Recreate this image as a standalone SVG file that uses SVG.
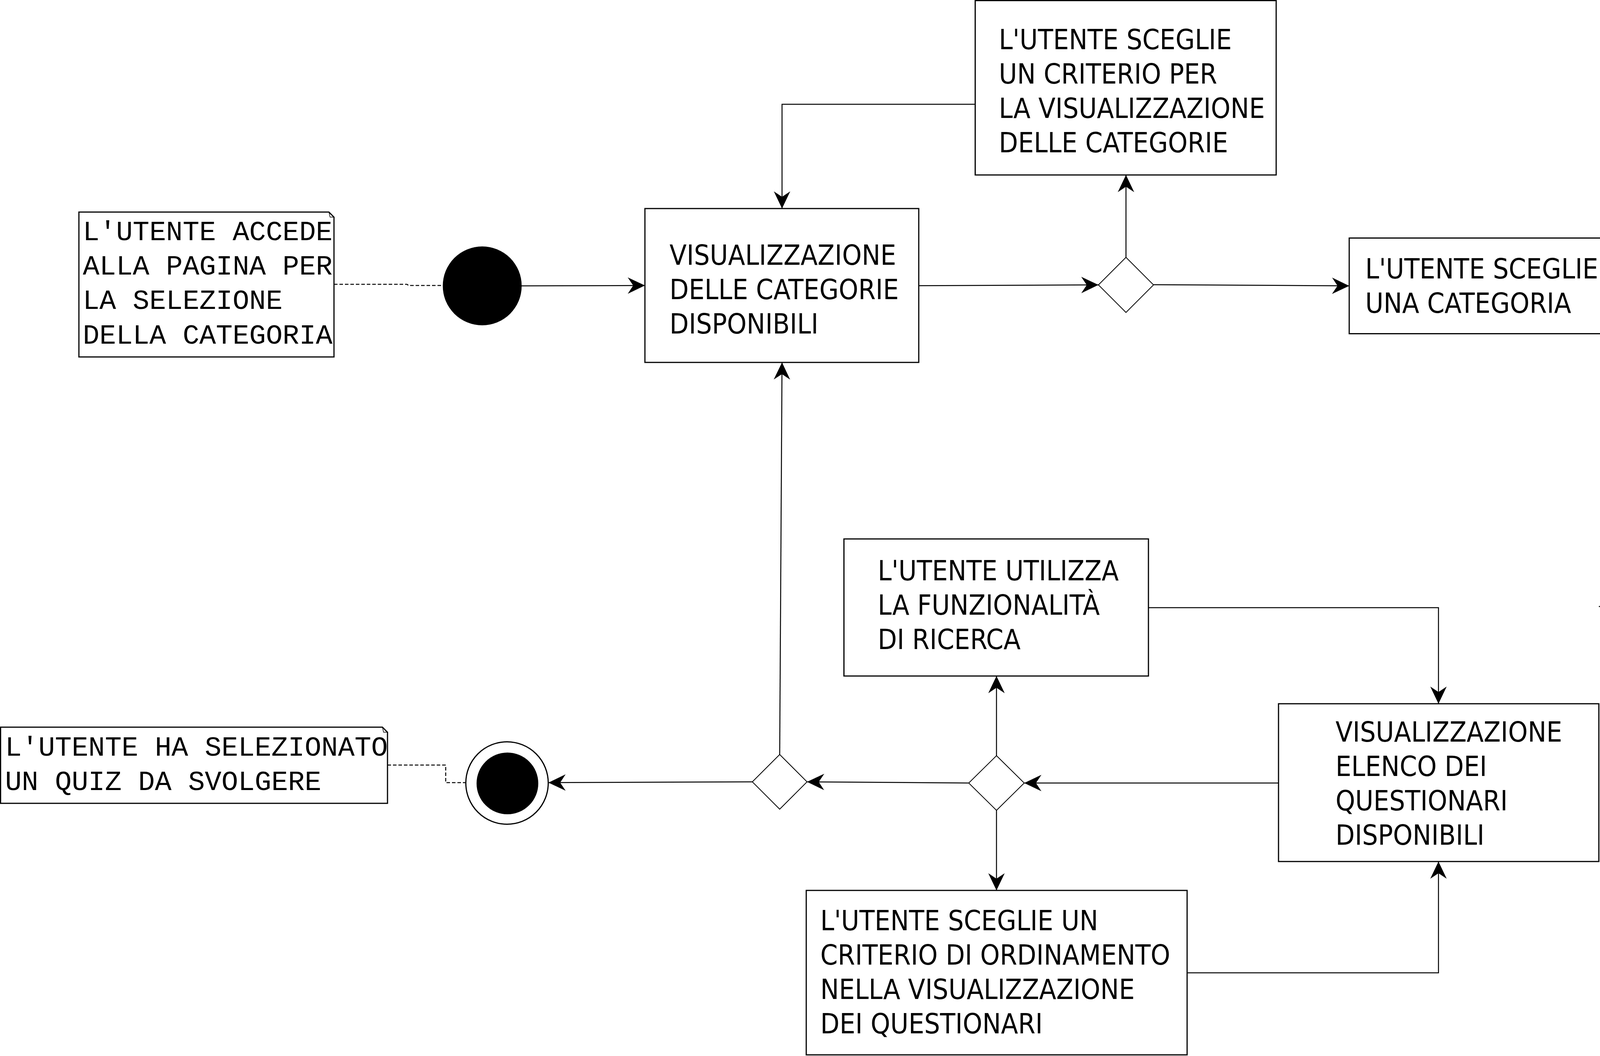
<svg xmlns="http://www.w3.org/2000/svg" width="4291" height="2704" viewBox="0 0 4291 2704">
<style>
.bg{fill:#fff}
.box{fill:#fff;stroke:#000;stroke-width:3}
.dia{fill:#fff;stroke:#000;stroke-width:2}
.note{fill:#fff;stroke:#000;stroke-width:3}
.con{fill:none;stroke:#000;stroke-width:2.5}
.dash{fill:none;stroke:#000;stroke-width:2.5;stroke-dasharray:9 5}
.t{font-family:"DejaVu Sans Condensed","DejaVu Sans",sans-serif;font-stretch:condensed;font-size:71px;fill:#000}
.m{font-family:"Liberation Mono","Courier New",monospace;font-size:71px;fill:#000}
</style>
<defs>
<marker id="arr" markerUnits="userSpaceOnUse" viewBox="-46 -23 48 46" markerWidth="48" markerHeight="46" refX="0" refY="0" orient="auto">
<path d="M0,0 L-44,-21 L-30,0 L-44,21 Z" fill="#000"/>
</marker>
</defs>
<rect class="bg" x="0" y="0" width="4291" height="2704"/>

<g id="connectors">
<line class="con" x1="1335" y1="732" x2="1651" y2="731" marker-end="url(#arr)"/>
<line class="con" x1="2352" y1="731.5" x2="2812" y2="729.5" marker-end="url(#arr)"/>
<line class="con" x1="2882.5" y1="659" x2="2882.5" y2="448" marker-end="url(#arr)"/>
<polyline class="con" points="2496,267 2002,267 2002,534" marker-end="url(#arr)"/>
<line class="con" x1="2953" y1="729" x2="3454" y2="732" marker-end="url(#arr)"/>
<polyline class="con" points="4135,732 4288,732 4288,1553 4093,1553" marker-end="url(#arr)"/>
<polyline class="con" points="2940,1556 3682.5,1556 3682.5,1802" marker-end="url(#arr)"/>
<polyline class="con" points="3039,2491 3682.5,2491 3682.5,2206" marker-end="url(#arr)"/>
<line class="con" x1="3273" y1="2005" x2="2622" y2="2005" marker-end="url(#arr)"/>
<line class="con" x1="2551" y1="1935" x2="2551" y2="1731" marker-end="url(#arr)"/>
<line class="con" x1="2551" y1="2074" x2="2551" y2="2280" marker-end="url(#arr)"/>
<line class="con" x1="2480" y1="2005" x2="2066" y2="2002" marker-end="url(#arr)"/>
<line class="con" x1="1996" y1="1932" x2="2002" y2="928" marker-end="url(#arr)"/>
<line class="con" x1="1926" y1="2002" x2="1404" y2="2004" marker-end="url(#arr)"/>
<polyline class="dash" points="855,728 1042,728 1046,731 1134,731"/>
<polyline class="dash" points="992,1959 1141,1959 1141,2004 1221,2004"/>
</g>

<g id="note-start">
<path class="note" d="M202,543 H842 L855,556 V914 H202 Z"/>
<path d="M842,543 L845,556 L855,556" fill="none" stroke="#000" stroke-width="1.5"/>
<text class="m" x="212" y="615">L'UTENTE ACCEDE</text>
<text class="m" x="212" y="703">ALLA PAGINA PER</text>
<text class="m" x="212" y="791">LA SELEZIONE</text>
<text class="m" x="212" y="880">DELLA CATEGORIA</text>
</g>

<g id="start">
<circle cx="1234.5" cy="732" r="101" fill="#000"/>
</g>

<g id="box-visualizzazione-categorie">
<rect class="box" x="1651" y="534" width="701" height="394"/>
<text class="t" x="1714" y="678">VISUALIZZAZIONE</text>
<text class="t" x="1714" y="766">DELLE CATEGORIE</text>
<text class="t" x="1714" y="854">DISPONIBILI</text>
</g>

<g id="box-criterio-categorie">
<rect class="box" x="2496.5" y="1.5" width="770.5" height="446.5"/>
<text class="t" x="2557" y="126">L'UTENTE SCEGLIE</text>
<text class="t" x="2557" y="214">UN CRITERIO PER</text>
<text class="t" x="2557" y="302">LA VISUALIZZAZIONE</text>
<text class="t" x="2557" y="390">DELLE CATEGORIE</text>
</g>

<g id="decision-1">
<polygon class="dia" points="2812,729.5 2882.5,659 2953,729.5 2882.5,800"/>
</g>

<g id="box-sceglie-categoria">
<rect class="box" x="3454" y="609.5" width="681.5" height="245"/>
<text class="t" x="3495" y="713">L'UTENTE SCEGLIE</text>
<text class="t" x="3495" y="801">UNA CATEGORIA</text>
</g>

<g id="box-elenco-questionari">
<rect class="box" x="3273" y="1802" width="820" height="404"/>
<text class="t" x="3419" y="1899">VISUALIZZAZIONE</text>
<text class="t" x="3419" y="1987">ELENCO DEI</text>
<text class="t" x="3419" y="2075">QUESTIONARI</text>
<text class="t" x="3419" y="2163">DISPONIBILI</text>
</g>

<g id="box-ricerca">
<rect class="box" x="2160.5" y="1380" width="779.5" height="351"/>
<text class="t" x="2247" y="1486">L'UTENTE UTILIZZA</text>
<text class="t" x="2247" y="1574">LA FUNZIONALITÀ</text>
<text class="t" x="2247" y="1662">DI RICERCA</text>
</g>

<g id="decision-2">
<polygon class="dia" points="2480,2005 2551,1935 2622,2005 2551,2075"/>
</g>

<g id="box-ordinamento">
<rect class="box" x="2064" y="2280" width="975" height="421"/>
<text class="t" x="2100" y="2382">L'UTENTE SCEGLIE UN</text>
<text class="t" x="2100" y="2470">CRITERIO DI ORDINAMENTO</text>
<text class="t" x="2100" y="2558">NELLA VISUALIZZAZIONE</text>
<text class="t" x="2100" y="2646">DEI QUESTIONARI</text>
</g>

<g id="decision-3">
<polygon class="dia" points="1926,2002 1996,1932 2066,2002 1996,2072"/>
</g>

<g id="end">
<circle cx="1298" cy="2005" r="105.5" fill="#fff" stroke="#000" stroke-width="3"/>
<circle cx="1299" cy="2006" r="79" fill="#000"/>
</g>

<g id="note-end">
<path class="note" d="M1.5,1862 H979 L992,1875 V2057 H1.5 Z"/>
<path d="M979,1862 L982,1875 L992,1875" fill="none" stroke="#000" stroke-width="1.5"/>
<text class="m" x="13" y="1935">L'UTENTE HA SELEZIONATO</text>
<text class="m" x="13" y="2023">UN QUIZ DA SVOLGERE</text>
</g>
</svg>
